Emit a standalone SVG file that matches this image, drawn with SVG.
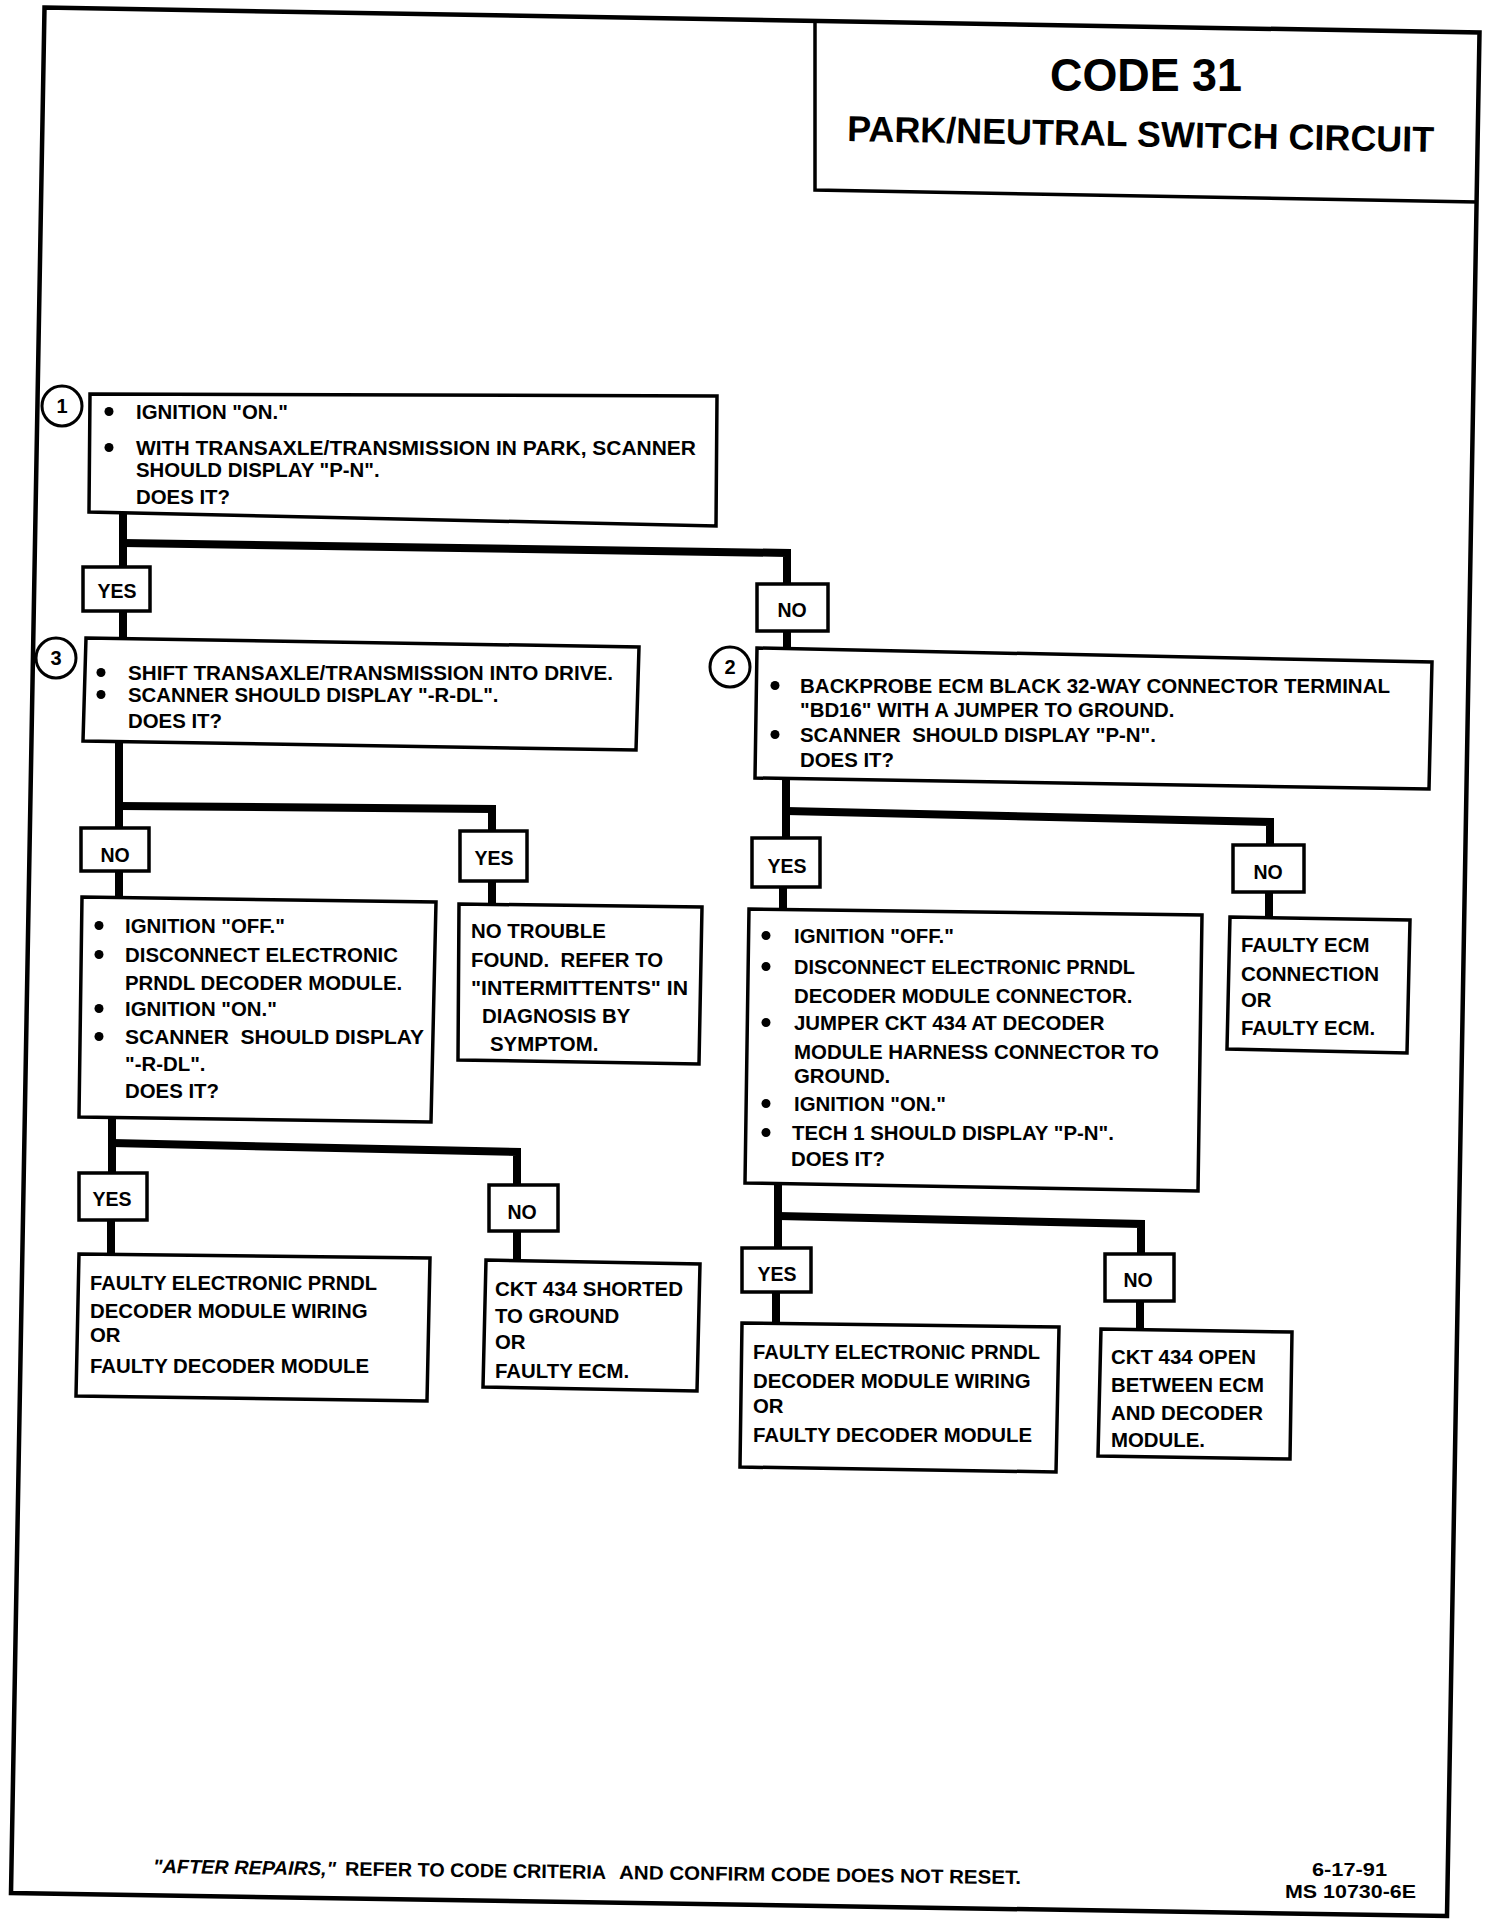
<svg xmlns="http://www.w3.org/2000/svg" width="1504" height="1928" viewBox="0 0 1504 1928">
<style>
text{font-family:"Liberation Sans",Arial,sans-serif;font-weight:bold;fill:#000}
.t{font-size:20.4px}
.l{font-size:19.5px;text-anchor:middle}
.n{font-size:20px;text-anchor:middle}
.bu{fill:#000}
.box{fill:#fff;stroke:#000;stroke-width:3.5;stroke-linejoin:miter}
.lbl{fill:#fff;stroke:#000;stroke-width:3.5}
.frame{fill:none;stroke:#000;stroke-width:4.5;stroke-linejoin:miter}
.conn{fill:none;stroke:#000;stroke-width:8;stroke-linejoin:miter;stroke-linecap:butt}
.circ{fill:#fff;stroke:#000;stroke-width:3}
</style>
<rect width="1504" height="1928" fill="#fff"/>
<g id="frame">
<polygon class="frame" points="44.5,7.5 1479.5,32.5 1447,1916 11,1893"/>
</g>
<g id="title">
<polyline class="frame" style="stroke-width:3.5" points="815,21 815,190 1477,202"/>
<text x="1050" y="90.5" style="font-size:47px" textLength="192" lengthAdjust="spacingAndGlyphs">CODE 31</text>
<text x="847" y="141" style="font-size:36px" textLength="587" lengthAdjust="spacingAndGlyphs" transform="rotate(1.07 847 141)">PARK/NEUTRAL SWITCH CIRCUIT</text>
</g>
<g id="connectors">
<path class="conn" d="M123,513 V567 M123,611 V641 M787,631 V650"/>
<polyline class="conn" points="123,543 787,553 787,584"/>
<path class="conn" d="M119,742 V828 M119,871 V898 M492,881 V905"/>
<polyline class="conn" points="119,806 492,809 492,831"/>
<path class="conn" d="M112,1117 V1173 M111,1220 V1254 M517,1231 V1261"/>
<polyline class="conn" points="112,1143 517,1152 517,1185"/>
<path class="conn" d="M786,778 V838 M783,887 V909 M1269,892 V918"/>
<polyline class="conn" points="786,811 1270,822 1270,845"/>
<path class="conn" d="M778,1184 V1248 M776,1292 V1324 M1140,1301 V1329"/>
<polyline class="conn" points="778,1216 1141,1224 1141,1254"/>
</g>
<g id="step1">
<circle class="circ" cx="62" cy="406" r="20"/>
<text class="n" x="62" y="413">1</text>
<polygon class="box" points="90,394 717,396 716,526 89,512"/>
<circle class="bu" cx="109" cy="411.5" r="4.5"/>
<circle class="bu" cx="109" cy="447.5" r="4.5"/>
<text class="t" x="136" y="419">IGNITION "ON."</text>
<text class="t" x="136" y="455" textLength="560" lengthAdjust="spacingAndGlyphs">WITH TRANSAXLE/TRANSMISSION IN PARK, SCANNER</text>
<text class="t" x="136" y="477">SHOULD DISPLAY "P-N".</text>
<text class="t" x="136" y="504">DOES IT?</text>
</g>
<g id="yes1">
<rect class="lbl" x="83" y="567" width="67" height="44"/>
<text class="l" x="117" y="598">YES</text>
</g>
<g id="no1">
<rect class="lbl" x="757" y="584" width="71" height="47"/>
<text class="l" x="792" y="617">NO</text>
</g>
<g id="step3">
<circle class="circ" cx="56" cy="658" r="20"/>
<text class="n" x="56" y="665">3</text>
<polygon class="box" points="86,638 639,647 636,750 83,741"/>
<circle class="bu" cx="101" cy="672.5" r="4.5"/>
<circle class="bu" cx="101" cy="694.5" r="4.5"/>
<text class="t" x="128" y="680" textLength="485" lengthAdjust="spacingAndGlyphs">SHIFT TRANSAXLE/TRANSMISSION INTO DRIVE.</text>
<text class="t" x="128" y="702">SCANNER SHOULD DISPLAY "-R-DL".</text>
<text class="t" x="128" y="728">DOES IT?</text>
</g>
<g id="step2">
<circle class="circ" cx="730" cy="667" r="20"/>
<text class="n" x="730" y="674">2</text>
<polygon class="box" points="757,648 1432,662 1429,789 755,778"/>
<circle class="bu" cx="775" cy="685.5" r="4.5"/>
<circle class="bu" cx="775" cy="734.5" r="4.5"/>
<text class="t" x="800" y="693" textLength="590" lengthAdjust="spacingAndGlyphs">BACKPROBE ECM BLACK 32-WAY CONNECTOR TERMINAL</text>
<text class="t" x="800" y="717">"BD16" WITH A JUMPER TO GROUND.</text>
<text class="t" x="800" y="742">SCANNER&#160; SHOULD DISPLAY "P-N".</text>
<text class="t" x="800" y="767">DOES IT?</text>
</g>
<g id="no3">
<rect class="lbl" x="81" y="828" width="68" height="43"/>
<text class="l" x="115" y="862">NO</text>
</g>
<g id="yes3">
<rect class="lbl" x="460" y="831" width="67" height="50"/>
<text class="l" x="494" y="865">YES</text>
</g>
<g id="stepA">
<polygon class="box" points="82,897 436,902 431,1122 79,1117"/>
<circle class="bu" cx="99" cy="925.5" r="4.5"/>
<circle class="bu" cx="99" cy="954.5" r="4.5"/>
<circle class="bu" cx="99" cy="1008.5" r="4.5"/>
<circle class="bu" cx="99" cy="1036.5" r="4.5"/>
<text class="t" x="125" y="933">IGNITION "OFF."</text>
<text class="t" x="125" y="962">DISCONNECT ELECTRONIC</text>
<text class="t" x="125" y="990">PRNDL DECODER MODULE.</text>
<text class="t" x="125" y="1016">IGNITION "ON."</text>
<text class="t" x="125" y="1044" textLength="299" lengthAdjust="spacingAndGlyphs">SCANNER&#160; SHOULD DISPLAY</text>
<text class="t" x="125" y="1071">"-R-DL".</text>
<text class="t" x="125" y="1098">DOES IT?</text>
</g>
<g id="stepB">
<polygon class="box" points="459,904 702,907 699,1064 458,1060"/>
<text class="t" x="471" y="938">NO TROUBLE</text>
<text class="t" x="471" y="967">FOUND.&#160; REFER TO</text>
<text class="t" x="471" y="995" textLength="217" lengthAdjust="spacingAndGlyphs">"INTERMITTENTS" IN</text>
<text class="t" x="482" y="1023">DIAGNOSIS BY</text>
<text class="t" x="490" y="1051">SYMPTOM.</text>
</g>
<g id="yes2">
<rect class="lbl" x="752" y="838" width="68" height="49"/>
<text class="l" x="787" y="873">YES</text>
</g>
<g id="no2">
<rect class="lbl" x="1233" y="845" width="71" height="47"/>
<text class="l" x="1268" y="879">NO</text>
</g>
<g id="stepE">
<polygon class="box" points="749,909 1202,915 1198,1191 745,1183"/>
<circle class="bu" cx="766" cy="935.5" r="4.5"/>
<circle class="bu" cx="766" cy="966.5" r="4.5"/>
<circle class="bu" cx="766" cy="1022.5" r="4.5"/>
<circle class="bu" cx="766" cy="1103.5" r="4.5"/>
<circle class="bu" cx="766" cy="1132.5" r="4.5"/>
<text class="t" x="794" y="943">IGNITION "OFF."</text>
<text class="t" x="794" y="974" textLength="341" lengthAdjust="spacingAndGlyphs">DISCONNECT ELECTRONIC PRNDL</text>
<text class="t" x="794" y="1003">DECODER MODULE CONNECTOR.</text>
<text class="t" x="794" y="1030">JUMPER CKT 434 AT DECODER</text>
<text class="t" x="794" y="1059" textLength="365" lengthAdjust="spacingAndGlyphs">MODULE HARNESS CONNECTOR TO</text>
<text class="t" x="794" y="1083">GROUND.</text>
<text class="t" x="794" y="1111">IGNITION "ON."</text>
<text class="t" x="792" y="1140">TECH 1 SHOULD DISPLAY "P-N".</text>
<text class="t" x="791" y="1166">DOES IT?</text>
</g>
<g id="stepF">
<polygon class="box" points="1230,917 1410,920 1407,1053 1227,1049"/>
<text class="t" x="1241" y="952">FAULTY ECM</text>
<text class="t" x="1241" y="981" textLength="138" lengthAdjust="spacingAndGlyphs">CONNECTION</text>
<text class="t" x="1241" y="1007">OR</text>
<text class="t" x="1241" y="1035">FAULTY ECM.</text>
</g>
<g id="yesA">
<rect class="lbl" x="79" y="1173" width="68" height="47"/>
<text class="l" x="112" y="1206">YES</text>
</g>
<g id="noA">
<rect class="lbl" x="489" y="1185" width="69" height="46"/>
<text class="l" x="522" y="1219">NO</text>
</g>
<g id="stepC">
<polygon class="box" points="79,1254 430,1258 427,1401 76,1396"/>
<text class="t" x="90" y="1290" textLength="287" lengthAdjust="spacingAndGlyphs">FAULTY ELECTRONIC PRNDL</text>
<text class="t" x="90" y="1318">DECODER MODULE WIRING</text>
<text class="t" x="90" y="1342">OR</text>
<text class="t" x="90" y="1373">FAULTY DECODER MODULE</text>
</g>
<g id="stepD">
<polygon class="box" points="486,1260 700,1264 697,1391 483,1387"/>
<text class="t" x="495" y="1296" textLength="188" lengthAdjust="spacingAndGlyphs">CKT 434 SHORTED</text>
<text class="t" x="495" y="1323">TO GROUND</text>
<text class="t" x="495" y="1349">OR</text>
<text class="t" x="495" y="1378">FAULTY ECM.</text>
</g>
<g id="yesE">
<rect class="lbl" x="742" y="1248" width="69" height="44"/>
<text class="l" x="777" y="1281">YES</text>
</g>
<g id="noE">
<rect class="lbl" x="1105" y="1254" width="69" height="47"/>
<text class="l" x="1138" y="1287">NO</text>
</g>
<g id="stepG">
<polygon class="box" points="742,1323 1059,1327 1056,1472 740,1467"/>
<text class="t" x="753" y="1359" textLength="287" lengthAdjust="spacingAndGlyphs">FAULTY ELECTRONIC PRNDL</text>
<text class="t" x="753" y="1388">DECODER MODULE WIRING</text>
<text class="t" x="753" y="1413">OR</text>
<text class="t" x="753" y="1442">FAULTY DECODER MODULE</text>
</g>
<g id="stepH">
<polygon class="box" points="1101,1329 1292,1332 1290,1459 1098,1456"/>
<text class="t" x="1111" y="1364">CKT 434 OPEN</text>
<text class="t" x="1111" y="1392">BETWEEN ECM</text>
<text class="t" x="1111" y="1420" textLength="152" lengthAdjust="spacingAndGlyphs">AND DECODER</text>
<text class="t" x="1111" y="1447">MODULE.</text>
</g>
<g id="footer">
<text x="153" y="1873" style="font-size:19.5px;font-style:italic" textLength="183" lengthAdjust="spacingAndGlyphs" transform="rotate(0.73 153 1873)">"AFTER REPAIRS,"</text>
<text x="345" y="1875.5" style="font-size:19.5px" textLength="261" lengthAdjust="spacingAndGlyphs" transform="rotate(0.73 345 1875.5)">REFER TO CODE CRITERIA</text>
<text x="619" y="1879" style="font-size:19.5px" textLength="402" lengthAdjust="spacingAndGlyphs" transform="rotate(0.73 619 1879)">AND CONFIRM CODE DOES NOT RESET.</text>
<text x="1312" y="1876" style="font-size:19px" textLength="75" lengthAdjust="spacingAndGlyphs">6-17-91</text>
<text x="1285" y="1898" style="font-size:19px" textLength="131" lengthAdjust="spacingAndGlyphs">MS 10730-6E</text>
</g>
</svg>
